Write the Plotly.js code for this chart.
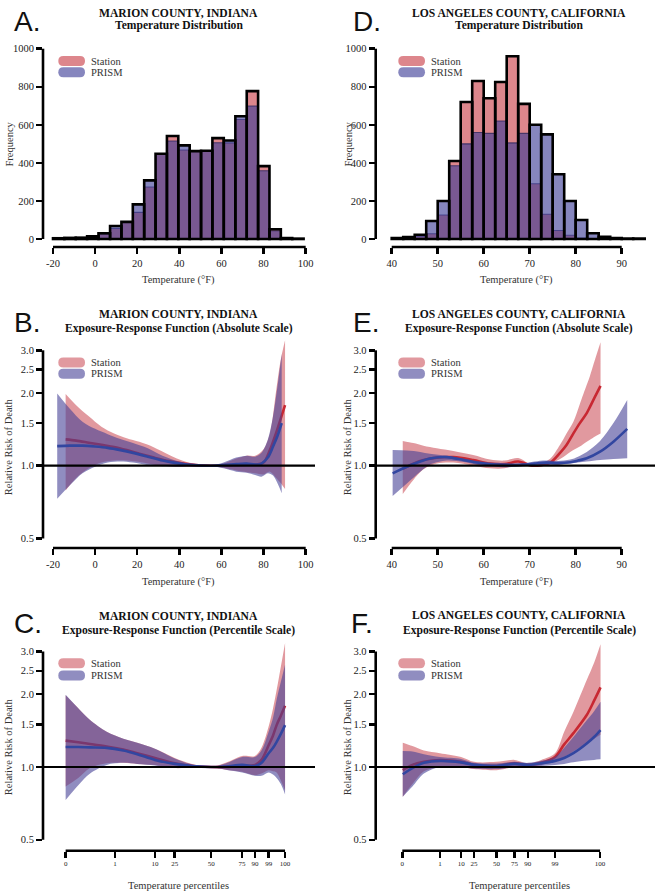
<!DOCTYPE html>
<html><head><meta charset="utf-8">
<script src="https://cdn.plot.ly/plotly-3.0.1.min.js"></script>
<style>html,body{margin:0;padding:0;background:#fff}#chart{width:659px;height:894px}</style>
</head><body><div id="chart"></div>
<script>
// ---------------- DATA ----------------
// Histograms (Temperature distribution), bin edges in °F
const A_edges = [-20.0,-14.6,-9.2,-3.8,1.6,7.1,12.5,17.9,23.3,28.7,34.1,39.5,44.9,50.3,55.7,61.1,66.6,72.0,77.4,82.8,88.2,93.6,99.0];
const A_station = [4,6,7,14,30,55,90,140,273,448,541,468,462,464,530,505,628,777,383,51,5,2];
const A_prism   = [3,5,6,14,25,68,90,182,308,448,515,492,460,463,506,518,645,699,359,43,4,1];
const D_edges = [40,42.5,45,47.5,50,52.5,55,57.5,60,62.5,65,67.5,70,72.5,75,77.5,80,82.5,85,87.5,90,92.5,95];
const D_station = [4,8,15,28,126,410,720,830,740,825,960,710,290,130,45,20,5,2,1,0,0,0];
const D_prism   = [5,10,22,95,200,385,500,560,555,620,505,555,600,550,340,200,100,30,12,5,3,2];

// B: Marion County, absolute scale
const B_st_T   = [-14,-9,-3,3,9,15,21,28,35,42,48,55,61,67,72,76,80,83,86,88,90.2];
const B_st_rr  = [1.285,1.27,1.245,1.22,1.195,1.16,1.12,1.08,1.045,1.02,1.005,1.0,1.0,1.005,1.01,1.01,1.03,1.16,1.37,1.55,1.78];
const B_st_hi  = [1.98,1.78,1.6,1.45,1.36,1.3,1.255,1.19,1.11,1.045,1.015,1.0,1.02,1.07,1.10,1.10,1.17,1.36,2.05,2.7,3.3];
const B_st_lo  = [0.79,0.89,0.975,1.03,1.05,1.05,1.035,1.01,0.995,0.99,0.995,1.0,0.98,0.955,0.94,0.93,0.92,0.945,0.89,0.85,0.80];
const B_pr_T   = [-18,-12,-6,0,6,12,18,25,32,40,47,55,61,67,72,76,79,82,84.5,86.5,88.6];
const B_pr_rr  = [1.205,1.21,1.21,1.2,1.185,1.16,1.13,1.09,1.05,1.02,1.005,1.0,1.005,1.015,1.02,1.01,1.02,1.08,1.2,1.32,1.5];
const B_pr_hi  = [1.99,1.72,1.52,1.42,1.35,1.29,1.24,1.18,1.10,1.04,1.012,1.0,1.03,1.08,1.10,1.09,1.13,1.28,1.6,2.1,2.9];
const B_pr_lo  = [0.73,0.83,0.93,0.99,1.03,1.04,1.03,1.005,0.995,0.99,0.995,1.0,0.975,0.945,0.935,0.915,0.90,0.93,0.91,0.85,0.77];

// C: Marion County, percentile scale (x in axis position units)
const C_pctPos   = [-14,9.4,28.4,37.8,55.1,69.8,75.9,82.4,90.2];
const pctLabels  = ['0','1','10','25','50','75','90','99','100'];
const C_x        = [-14,-8,-2.4,5.5,13.4,20,28.4,37.8,46,55.1,62,69.8,75.9,79,82.4,84.5,86.2,88.2,90.2];
const C_st_rr    = [1.285,1.265,1.245,1.215,1.18,1.14,1.09,1.036,1.01,1.0,1.0,1.01,1.02,1.07,1.23,1.35,1.49,1.63,1.79];
const C_st_hi    = [1.98,1.75,1.565,1.40,1.31,1.26,1.19,1.09,1.03,1.0,1.04,1.11,1.11,1.2,1.47,1.75,2.08,2.6,3.26];
const C_st_lo    = [0.83,0.9,0.99,1.036,1.04,1.03,1.02,0.99,0.995,1.0,0.975,0.956,0.925,0.94,0.97,0.96,0.95,0.88,0.80];
const C_pr_rr    = [1.21,1.21,1.205,1.20,1.17,1.13,1.07,1.03,1.008,1.0,1.005,1.02,1.01,1.04,1.14,1.2,1.27,1.37,1.49];
const C_pr_hi    = [1.99,1.75,1.565,1.40,1.31,1.26,1.19,1.085,1.025,1.0,1.035,1.10,1.10,1.17,1.40,1.6,1.9,2.25,2.65];
const C_pr_lo    = [0.73,0.84,0.94,1.02,1.04,1.03,1.015,0.99,0.995,1.0,0.975,0.95,0.92,0.92,0.95,0.93,0.9,0.85,0.77];

// E: Los Angeles County, absolute scale
const E_st_T   = [42.4,44.7,46.9,49.8,53.4,57.7,61.4,64.5,67.5,70.5,72.5,74.5,76.6,78,79.5,80.9,82.4,83.1,84.2,85.4];
const E_st_rr  = [0.97,1.02,1.055,1.08,1.085,1.055,1.02,1.015,1.04,1.0,1.005,1.03,1.13,1.218,1.36,1.50,1.65,1.75,1.93,2.14];
const E_st_hi  = [1.265,1.24,1.21,1.18,1.15,1.107,1.06,1.05,1.075,1.005,1.02,1.07,1.22,1.36,1.52,1.8,2.16,2.35,2.75,3.24];
const E_st_lo  = [0.764,0.873,0.966,1.02,1.03,1.0,0.975,0.975,1.01,0.995,0.995,1.02,1.066,1.11,1.16,1.2,1.257,1.28,1.32,1.36];
const E_pr_T   = [40.2,43.3,46.2,48.3,52,55.6,58.5,61.4,65,68.5,71,73.5,76,78.8,80.5,82.4,85.3,88.2,91.2];
const E_pr_rr  = [0.93,0.99,1.04,1.07,1.085,1.055,1.03,1.013,1.005,1.01,1.02,1.03,1.025,1.033,1.05,1.073,1.143,1.257,1.42];
const E_pr_hi  = [1.16,1.155,1.14,1.12,1.10,1.07,1.045,1.03,1.025,1.02,1.04,1.05,1.045,1.06,1.09,1.14,1.265,1.50,1.87];
const E_pr_lo  = [0.75,0.845,0.945,1.01,1.05,1.035,1.01,0.995,0.985,0.995,1.0,1.0,1.005,1.02,1.03,1.04,1.055,1.066,1.073];

// F: Los Angeles County, percentile scale (x in axis position units)
const F_pctPos = [42.3,50.5,55.1,57.9,62.8,66.7,69.6,75.5,85.3];
const F_x      = [42.4,44.5,47,50.5,55.1,57.9,62.8,66.7,69.6,72.5,75.5,77.5,79.5,82.4,84,85.4];
const F_st_rr  = [0.97,1.02,1.05,1.069,1.05,1.02,1.01,1.035,1.02,1.04,1.10,1.24,1.38,1.64,1.88,2.135];
const F_st_hi  = [1.26,1.22,1.17,1.14,1.10,1.05,1.05,1.07,1.035,1.07,1.14,1.40,1.69,2.29,2.7,3.22];
const F_st_lo  = [0.754,0.85,0.96,1.0,1.0,0.98,0.97,1.0,1.0,1.02,1.06,1.1,1.16,1.257,1.31,1.36];
const F_pr_rr  = [0.933,0.99,1.04,1.06,1.045,1.02,1.01,1.03,1.02,1.035,1.06,1.09,1.14,1.25,1.33,1.42];
const F_pr_hi  = [1.165,1.16,1.13,1.10,1.08,1.04,1.035,1.05,1.04,1.06,1.10,1.2,1.33,1.56,1.7,1.86];
const F_pr_lo  = [0.754,0.83,0.94,1.0,1.0,0.985,0.98,1.0,1.0,1.01,1.02,1.03,1.045,1.063,1.07,1.076];

// ticks
const A_xticks = [-20,0,20,40,60,80,100];
const D_xticks = [40,50,60,70,80,90];
const freqTicks = [0,200,400,600,800,1000];
const rrTicks = [0.5,1,1.5,2,2.5,3];
const rrLabels = ['0.5','1.0','1.5','2.0','2.5','3.0'];

// ---------------- STYLE / LAYOUT ----------------
const W = 659, H = 894;
const X = v => v / W, Y = v => 1 - v / H;
const SERIF = 'Liberation Serif, Times New Roman, serif';
const SANS = 'Liberation Sans, Arial, sans-serif';
const stHist = 'rgba(200,60,70,0.62)', prHist = 'rgba(60,60,150,0.62)';
const stBand = 'rgba(200,70,80,0.55)', prBand = 'rgba(70,65,150,0.6)';
const stLine = 'rgb(200,40,50)', prLine = 'rgb(50,70,160)';

const traces = [];
function hist(edges, st, pr, xa, ya) {
  const ctr = [], wid = [];
  for (let i = 0; i < edges.length - 1; i++) { ctr.push((edges[i] + edges[i+1]) / 2); wid.push(edges[i+1] - edges[i]); }
  const mx = st.map((v, i) => Math.max(v, pr[i]));
  traces.push({type:'bar', x:ctr, y:st, width:wid, xaxis:xa, yaxis:ya, marker:{color:stHist, line:{color:'rgba(30,30,90,0.7)', width:1.1}}, hoverinfo:'skip', showlegend:false});
  traces.push({type:'bar', x:ctr, y:pr, width:wid, xaxis:xa, yaxis:ya, marker:{color:prHist, line:{color:'rgba(30,30,90,0.7)', width:1.1}}, hoverinfo:'skip', showlegend:false});
  traces.push({type:'bar', x:ctr, y:mx, width:wid, xaxis:xa, yaxis:ya, marker:{color:'rgba(0,0,0,0)', line:{color:'#000', width:2.6}}, hoverinfo:'skip', showlegend:false});
}
function band(xs, lo, hi, rr, fill, lc, xa, ya) {
  traces.push({type:'scatter', mode:'lines', x:xs, y:lo, xaxis:xa, yaxis:ya, line:{width:0, shape:'spline', smoothing:0.9}, hoverinfo:'skip', showlegend:false});
  traces.push({type:'scatter', mode:'lines', x:xs, y:hi, xaxis:xa, yaxis:ya, fill:'tonexty', fillcolor:fill, line:{width:0, shape:'spline', smoothing:0.9}, hoverinfo:'skip', showlegend:false});
  traces.push({type:'scatter', mode:'lines', x:xs, y:rr, xaxis:xa, yaxis:ya, line:{width:2.6, color:lc, shape:'spline', smoothing:0.9}, hoverinfo:'skip', showlegend:false});
}
hist(A_edges, A_station, A_prism, 'x', 'y');
hist(D_edges, D_station, D_prism, 'x4', 'y4');
band(B_st_T, B_st_lo, B_st_hi, B_st_rr, stBand, stLine, 'x2', 'y2');
band(B_pr_T, B_pr_lo, B_pr_hi, B_pr_rr, prBand, prLine, 'x2', 'y2');
band(C_x, C_st_lo, C_st_hi, C_st_rr, stBand, stLine, 'x3', 'y3');
band(C_x, C_pr_lo, C_pr_hi, C_pr_rr, prBand, prLine, 'x3', 'y3');
band(E_st_T, E_st_lo, E_st_hi, E_st_rr, stBand, stLine, 'x5', 'y5');
band(E_pr_T, E_pr_lo, E_pr_hi, E_pr_rr, prBand, prLine, 'x5', 'y5');
band(F_x, F_st_lo, F_st_hi, F_st_rr, stBand, stLine, 'x6', 'y6');
band(F_x, F_pr_lo, F_pr_hi, F_pr_rr, prBand, prLine, 'x6', 'y6');

const tickBase = {ticks:'outside', ticklen:6, tickwidth:2.5, tickcolor:'#000', showline:false, showgrid:false, zeroline:false, fixedrange:true, tickmode:'array'};
function xaxis(l, r, range, vals, text, anchor, fs) {
  return Object.assign({}, tickBase, {domain:[X(l), X(r)], range:range, tickvals:vals, ticktext:text, anchor:anchor, tickfont:{family:SERIF, size:fs, color:'#222'}});
}
function yaxis(t, b, range, vals, text, anchor, type) {
  return Object.assign({}, tickBase, {domain:[Y(b), Y(t)], range:range, tickvals:vals, ticktext:text, anchor:anchor, type:type, tickfont:{family:SERIF, size:10.5, color:'#222'}});
}
const LX = [43, 315], RX = [375.7, 655];
const rngL = [-24.75, 104.42], rngR = [36.52, 97.24];
const lab = a => a.map(String);
const layout = {
  width: W, height: H, margin:{l:0, r:0, t:0, b:0}, paper_bgcolor:'#fff', plot_bgcolor:'rgba(0,0,0,0)',
  barmode:'overlay', bargap:0, showlegend:false,
  xaxis:  xaxis(LX[0], LX[1], rngL, A_xticks, lab(A_xticks), 'y', 10.5),
  yaxis:  yaxis(40, 247, [-42, 1045.7], freqTicks, lab(freqTicks), 'x', 'linear'),
  xaxis2: xaxis(LX[0], LX[1], rngL, A_xticks, lab(A_xticks), 'y2', 10.5),
  yaxis2: yaxis(335, 548, [-0.3404, 0.5405], rrTicks, rrLabels, 'x2', 'log'),
  xaxis3: xaxis(LX[0], LX[1], rngL, C_pctPos, pctLabels, 'y3', 7),
  yaxis3: yaxis(637, 850.7, [-0.3462, 0.5376], rrTicks, rrLabels, 'x3', 'log'),
  xaxis4: xaxis(RX[0], RX[1], rngR, D_xticks, lab(D_xticks), 'y4', 10.5),
  yaxis4: yaxis(40, 247, [-42, 1045.7], freqTicks, lab(freqTicks), 'x4', 'linear'),
  xaxis5: xaxis(RX[0], RX[1], rngR, D_xticks, lab(D_xticks), 'y5', 10.5),
  yaxis5: yaxis(335, 548, [-0.3404, 0.5405], rrTicks, rrLabels, 'x5', 'log'),
  xaxis6: xaxis(RX[0], RX[1], rngR, F_pctPos, pctLabels, 'y6', 7),
  yaxis6: yaxis(637, 850.7, [-0.3462, 0.5376], rrTicks, rrLabels, 'x6', 'log'),
  shapes: [], annotations: []
};

const AX = {A:['x','y'], B:['x2','y2'], C:['x3','y3'], D:['x4','y4'], E:['x5','y5'], F:['x6','y6']};
const axisLine = {color:'#000', width:2.6};
function axisLines(p, xv, yv, hline) {
  const [xa, ya] = AX[p];
  const xDom = layout[xa === 'x' ? 'xaxis' : 'xaxis' + xa.slice(1)].domain;
  const yDom = layout[ya === 'y' ? 'yaxis' : 'yaxis' + ya.slice(1)].domain;
  layout.shapes.push({type:'line', xref:'paper', x0:xDom[0], x1:xDom[0], yref:ya, y0:yv[0], y1:yv[yv.length-1], line:axisLine});
  layout.shapes.push({type:'line', xref:xa, x0:xv[0], x1:xv[xv.length-1], yref:'paper', y0:yDom[0], y1:yDom[0], line:axisLine});
  if (hline) layout.shapes.push({type:'line', xref:'paper', x0:xDom[0], x1:xDom[1], yref:ya, y0:1, y1:1, line:{color:'#000', width:2.2}});
}
axisLines('A', A_xticks, freqTicks, false);
axisLines('D', D_xticks, freqTicks, false);
axisLines('B', A_xticks, rrTicks, true);
axisLines('E', D_xticks, rrTicks, true);
axisLines('C', C_pctPos, rrTicks, true);
axisLines('F', F_pctPos, rrTicks, true);

function pill(x0, x1, yc, h, color) {
  const r = h / 2, t = yc - h / 2, b = yc + h / 2;
  const p = (x, y) => X(x).toFixed(5) + ',' + Y(y).toFixed(5);
  const path = `M ${p(x0+r,t)} L ${p(x1-r,t)} Q ${p(x1,t)} ${p(x1,yc)} Q ${p(x1,b)} ${p(x1-r,b)} L ${p(x0+r,b)} Q ${p(x0,b)} ${p(x0,yc)} Q ${p(x0,t)} ${p(x0+r,t)} Z`;
  layout.shapes.push({type:'path', xref:'paper', yref:'paper', path:path, fillcolor:color, line:{width:0}, layer:'above'});
}
function text(x, y, t, opts) {
  layout.annotations.push(Object.assign({xref:'paper', yref:'paper', x:X(x), y:Y(y), text:t, showarrow:false, xanchor:'center', yanchor:'middle', font:{family:SERIF, size:10.5, color:'#333'}}, opts || {}));
}
function legend(x0, yS, yP, cS, cP) {
  pill(x0, x0 + 26.7, yS, 10, cS);
  pill(x0, x0 + 26.7, yP, 10, cP);
  text(x0 + 30.5, yS, 'Station', {xanchor:'left'});
  text(x0 + 30.5, yP, 'PRISM', {xanchor:'left'});
}
legend(58.3, 61, 72.3, stHist, prHist);
legend(398.3, 61, 72.3, stHist, prHist);
legend(58.3, 362.5, 373.7, stBand, prBand);
legend(398.3, 362.5, 373.7, stBand, prBand);
legend(58.3, 663.3, 675.5, stBand, prBand);
legend(398.3, 663.3, 675.5, stBand, prBand);

const titleFont = {family:SERIF, size:11.6, color:'#111'};
function title(cx, y1, y2, l1, l2) {
  text(cx, y1, '<b>' + l1 + '</b>', {font:titleFont});
  text(cx, y2, '<b>' + l2 + '</b>', {font:titleFont});
}
title(179, 13.3, 26, 'MARION COUNTY, INDIANA', 'Temperature Distribution');
title(179, 314, 328.3, 'MARION COUNTY, INDIANA', 'Exposure-Response Function (Absolute Scale)');
title(179, 616, 630.7, 'MARION COUNTY, INDIANA', 'Exposure-Response Function (Percentile Scale)');
title(518.5, 13.3, 26, 'LOS ANGELES COUNTY, CALIFORNIA', 'Temperature Distribution');
title(518.5, 314, 328.3, 'LOS ANGELES COUNTY, CALIFORNIA', 'Exposure-Response Function (Absolute Scale)');
title(519, 615, 630, 'LOS ANGELES COUNTY, CALIFORNIA', 'Exposure-Response Function (Percentile Scale)');

const letterFont = {family:SANS, size:28, color:'#111'};
[['A.',12,21.5],['B.',12,322],['C.',12,623],['D.',350.5,21.5],['E.',350.5,322],['F.',349,623]].forEach(l => text(l[1], l[2], l[0], {xanchor:'left', font:letterFont}));

// axis titles
text(8.5, 144, 'Frequency', {textangle:-90});
text(347.5, 144, 'Frequency', {textangle:-90});
text(179, 280, 'Temperature (°F)');
text(516.7, 280, 'Temperature (°F)');
text(8.5, 446.7, 'Relative Risk of Death', {textangle:-90});
text(347.5, 446.7, 'Relative Risk of Death', {textangle:-90});
text(179, 581.7, 'Temperature (°F)');
text(516.7, 581.7, 'Temperature (°F)');
text(8.5, 746.7, 'Relative Risk of Death', {textangle:-90});
text(347.5, 746.7, 'Relative Risk of Death', {textangle:-90});
text(179, 885, 'Temperature percentiles');
text(519, 885, 'Temperature percentiles');

Plotly.newPlot('chart', traces, layout, {displayModeBar:false, staticPlot:true});
</script></body></html>
